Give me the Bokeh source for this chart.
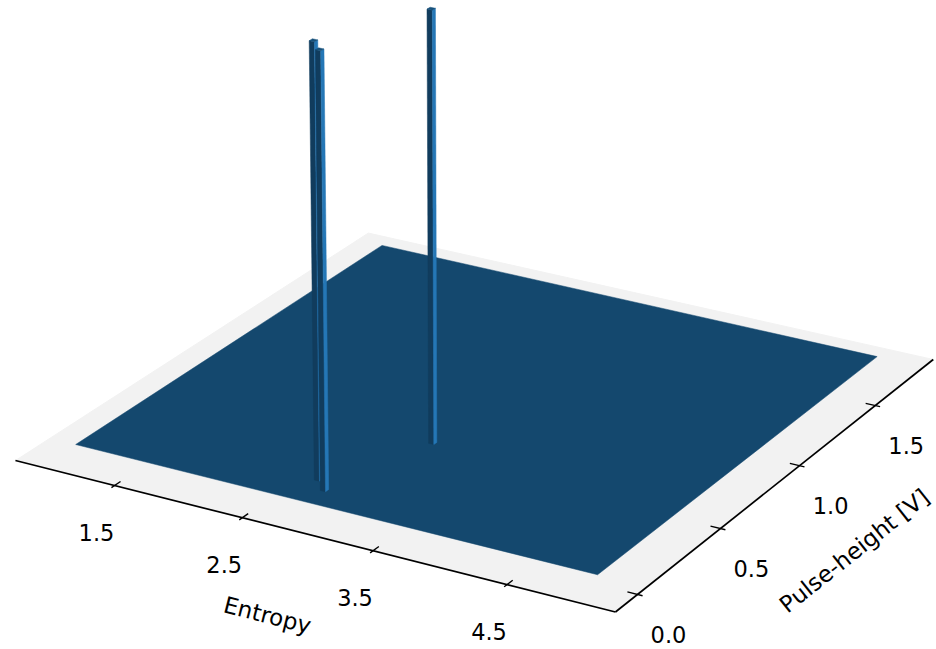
import numpy as np
from bokeh.plotting import figure
from bokeh.models import Range1d
from bokeh.embed import file_html
from bokeh.resources import INLINE
from bokeh.core.properties import value

# ---------------- data ----------------
entropy_range = [1.0, 5.0]          # histogram extent (entropy)
pulse_range = [0.0, 1.77]           # histogram extent (pulse height, V)
n_bins = 100                        # bins per axis
peak_entropy = [2.70, 2.82, 3.06]   # non-empty bins (entropy)
peak_pulse = [0.15, 0.10, 0.54]     # non-empty bins (pulse height)
peak_counts = [1, 1, 1]             # counts in those bins
entropy_ticks = [1.5, 2.5, 3.5, 4.5]
pulse_ticks = [0.0, 0.5, 1.0, 1.5]
entropy_tick_labels = ["1.5", "2.5", "3.5", "4.5"]
pulse_tick_labels = ["0.0", "0.5", "1.0", "1.5"]
x_title = "Entropy"
y_title = "Pulse-height [V]"

# ---------------- view / style ----------------
ELEV, AZIM, DIST = 22.0, -60.0, 10.0
FONT = "DejaVu Sans"
TICK_FS = "22.5px"
LABEL_FS = "23px"
PANE_COLOR = "#f2f2f2"
SURF_COLOR = "#14486e"
FRONT_COLOR = "#113c5d"
RIGHT_COLOR = "#2577b6"
TOP_COLOR = "#17507a"
ZTOP_FACTOR = 1.062
XR = (-0.08082, 0.07593)
YR = (-0.07938, 0.02931)
W, H = 936, 649
S = W / (XR[1] - XR[0])   # pixels per projected unit


def pane_bounds(lo, hi, margin):
    r = hi - lo
    l, h = lo - margin * r, hi + margin * r
    d = (h - l) / 48.0
    return l - d, h + d, (h - l) / 12.0


zmax = max(peak_counts)
XP0, XP1, DX = pane_bounds(entropy_range[0], entropy_range[1], 0.05)
YP0, YP1, DY = pane_bounds(pulse_range[0], pulse_range[1], 0.05)
zl, zh = 0.0, ZTOP_FACTOR * zmax
ZP0, ZP1, DZ = zl - (zh - zl) / 48.0, zh + (zh - zl) / 48.0, (zh - zl) / 12.0

box = np.array([4.0, 4.0, 3.0])
box = box * 1.8294640721620434 / np.linalg.norm(box)
e, a = np.deg2rad(ELEV), np.deg2rad(AZIM)
wv = np.array([np.cos(e) * np.cos(a), np.cos(e) * np.sin(a), np.sin(e)])
uv = np.cross([0.0, 0.0, 1.0], wv)
uv = uv / np.linalg.norm(uv)
vv = np.cross(wv, uv)


def proj(x, y, z):
    x = np.atleast_1d(np.asarray(x, float))
    y = np.atleast_1d(np.asarray(y, float))
    z = np.atleast_1d(np.asarray(z, float))
    q = np.stack([
        (x - XP0) / (XP1 - XP0) * box[0] - box[0] / 2,
        (y - YP0) / (YP1 - YP0) * box[1] - box[1] / 2,
        (z - ZP0) / (ZP1 - ZP0) * box[2] - box[2] / 2,
    ])
    den = DIST - wv @ q
    return (uv @ q) / den, (vv @ q) / den, den


p = figure(width=W, height=H, x_range=Range1d(*XR), y_range=Range1d(*YR),
           output_backend="svg", toolbar_location=None, min_border=0,
           x_axis_location=None, y_axis_location=None)
p.grid.visible = False
p.outline_line_color = None
p.background_fill_color = "white"
p.border_fill_color = "white"

# floor pane
px, py, _ = proj([XP0, XP1, XP1, XP0], [YP0, YP0, YP1, YP1], [ZP0] * 4)
p.patch(list(px), list(py), fill_color=PANE_COLOR, line_color=PANE_COLOR, line_width=1)

# histogram floor (tops of the empty bars)
sx, sy, _ = proj([entropy_range[0], entropy_range[1], entropy_range[1], entropy_range[0]],
                 [pulse_range[0], pulse_range[0], pulse_range[1], pulse_range[1]], [0.0] * 4)
p.patch(list(sx), list(sy), fill_color=SURF_COLOR, line_color=SURF_COLOR, line_width=0.5)

# axis lines
ax_x, ax_y, _ = proj([XP0, XP1], [YP0, YP0], [ZP0, ZP0])
ay_x, ay_y, _ = proj([XP1, XP1], [YP0, YP1], [ZP0, ZP0])
p.line(list(ax_x), list(ax_y), line_color="black", line_width=1.7)
p.line(list(ay_x), list(ay_y), line_color="black", line_width=1.7)

# ticks
txs, tys = [], []
for t in entropy_ticks:
    a_, b_, _ = proj([t, t], [YP0 - 0.1 * DY, YP0 + 0.2 * DY], [ZP0, ZP0])
    txs.append(list(a_)); tys.append(list(b_))
for t in pulse_ticks:
    a_, b_, _ = proj([XP1 + 0.1 * DX, XP1 - 0.2 * DX], [t, t], [ZP0, ZP0])
    txs.append(list(a_)); tys.append(list(b_))
p.multi_line(txs, tys, line_color="black", line_width=1.4)

# tick labels
ex, ey, _ = proj(entropy_ticks, [YP0] * len(entropy_ticks), [ZP0] * len(entropy_ticks))
p.text(list(ex - 18 / S), list(ey - 47 / S), text=entropy_tick_labels,
       text_font=value(FONT), text_font_size=value(TICK_FS), text_color="black",
       text_align="center", text_baseline="middle")
qx, qy, _ = proj([XP1] * len(pulse_ticks), pulse_ticks, [ZP0] * len(pulse_ticks))
p.text(list(qx + 31 / S), list(qy - 40 / S), text=pulse_tick_labels,
       text_font=value(FONT), text_font_size=value(TICK_FS), text_color="black",
       text_align="center", text_baseline="middle")

# axis titles
ang_x = float(np.arctan2(ax_y[1] - ax_y[0], ax_x[1] - ax_x[0]))
ang_y = float(np.arctan2(ay_y[1] - ay_y[0], ay_x[1] - ay_x[0]))
p.text([ax_x.mean() - 48 / S], [ax_y.mean() - 79 / S], text=[x_title], angle=ang_x,
       text_font=value(FONT), text_font_size=value(LABEL_FS), text_color="black",
       text_align="center", text_baseline="middle")
p.text([ay_x.mean() + 80 / S], [ay_y.mean() - 65 / S], text=[y_title], angle=ang_y,
       text_font=value(FONT), text_font_size=value(LABEL_FS), text_color="black",
       text_align="center", text_baseline="middle")

# bars
edges_e = np.linspace(entropy_range[0], entropy_range[1], n_bins + 1)
edges_p = np.linspace(pulse_range[0], pulse_range[1], n_bins + 1)
bars = []
for ev, pv, c in zip(peak_entropy, peak_pulse, peak_counts):
    i = int(np.clip(np.searchsorted(edges_e, ev, side="right") - 1, 0, n_bins - 1))
    j = int(np.clip(np.searchsorted(edges_p, pv, side="right") - 1, 0, n_bins - 1))
    x0, x1, y0, y1 = edges_e[i], edges_e[i + 1], edges_p[j], edges_p[j + 1]
    _, _, d = proj([(x0 + x1) / 2], [(y0 + y1) / 2], [0.0])
    bars.append((d[0], x0, x1, y0, y1, c))
bars.sort(key=lambda b: -b[0])

fxs, fys, fcs = [], [], []
for _, x0, x1, y0, y1, c in bars:
    faces = [
        ([x0, x1, x1, x0], [y0, y0, y0, y0], [0, 0, c, c], FRONT_COLOR),
        ([x1, x1, x1, x1], [y0, y1, y1, y0], [0, 0, c, c], RIGHT_COLOR),
        ([x0, x1, x1, x0], [y0, y0, y1, y1], [c, c, c, c], TOP_COLOR),
    ]
    for fx, fy, fz, col in faces:
        a_, b_, _ = proj(fx, fy, fz)
        fxs.append(list(a_)); fys.append(list(b_)); fcs.append(col)
p.patches(fxs, fys, fill_color=fcs, line_color=fcs, line_width=0.5)

open("out.html", "w").write(file_html(p, INLINE))
